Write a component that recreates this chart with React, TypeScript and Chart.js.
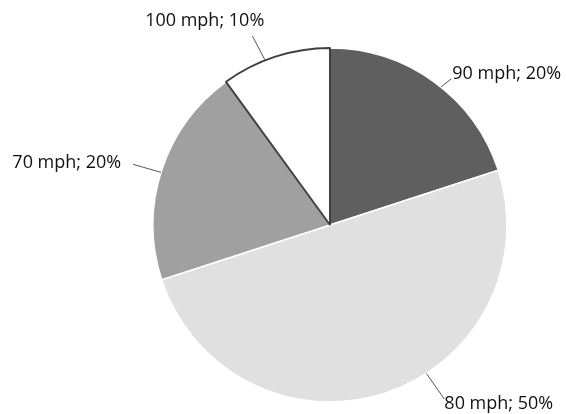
import React, { useEffect, useRef } from "react";
import { Chart, registerables } from "chart.js";

Chart.register(...registerables);

const categories = ["90 mph", "80 mph", "70 mph", "100 mph"];
const shares = [20, 50, 20, 10];
const sliceColors = ["#5f5f5f", "#e0e0e0", "#a0a0a0", "#ffffff"];
const borderColors = ["#ffffff", "#ffffff", "#ffffff", "#404040"];
const borderWidths = [1.5, 1.5, 1.5, 2];

// label layout (relative to pie centre, px at radius 178)
const leaderAngles = [38.8, 147, -72.7, -21.5];
const leaderEnds: [number, number][] = [[122, -147], [115, 175], [-198, -61], [-78, -190]];
const textPos: [number, number][] = [[123, -152], [115, 180], [-210, -62], [-126, -205]];
const textAligns: CanvasTextAlign[] = ["left", "left", "right", "center"];

const labelPlugin = {
  id: "pieLabels",
  afterDatasetsDraw(chart: any) {
    const ctx = chart.ctx;
    const meta = chart.getDatasetMeta(0);
    ctx.save();
    meta.data.forEach((arc: any, i: number) => {
      const cx = arc.x, cy = arc.y, r = arc.outerRadius;
      const s = r / 178;
      const a = (leaderAngles[i] * Math.PI) / 180;
      const sx = cx + r * Math.sin(a);
      const sy = cy - r * Math.cos(a);
      const ex = cx + leaderEnds[i][0] * s;
      const ey = cy + leaderEnds[i][1] * s;
      ctx.strokeStyle = "#555555";
      ctx.lineWidth = 1;
      ctx.beginPath();
      ctx.moveTo(sx, sy);
      ctx.lineTo(ex, ey);
      ctx.stroke();
      ctx.fillStyle = "#111111";
      ctx.font = "18px 'Open Sans'";
      ctx.textAlign = textAligns[i];
      ctx.textBaseline = "middle";
      const label = `${categories[i]}; ${shares[i]}%`;
      ctx.fillText(label, cx + textPos[i][0] * s, cy + textPos[i][1] * s);
    });
    ctx.restore();
  },
};

export default function App() {
  const ref = useRef<HTMLCanvasElement>(null);
  useEffect(() => {
    if (!ref.current) return;
    const chart = new Chart(ref.current, {
      type: "pie",
      data: {
        labels: categories,
        datasets: [
          {
            data: shares,
            backgroundColor: sliceColors,
            borderColor: borderColors,
            borderWidth: borderWidths,
          },
        ],
      },
      options: {
        animation: false,
        responsive: true,
        maintainAspectRatio: false,
        layout: { padding: { left: 152, right: 58, top: 47, bottom: 11 } },
        plugins: {
          legend: { display: false },
          tooltip: { enabled: false },
        },
      },
      plugins: [labelPlugin],
    });
    return () => chart.destroy();
  }, []);
  return (
    <div style={{ position: "fixed", left: 0, top: 0, width: 566, height: 414, background: "#fff" }}>
      <canvas ref={ref} />
    </div>
  );
}
